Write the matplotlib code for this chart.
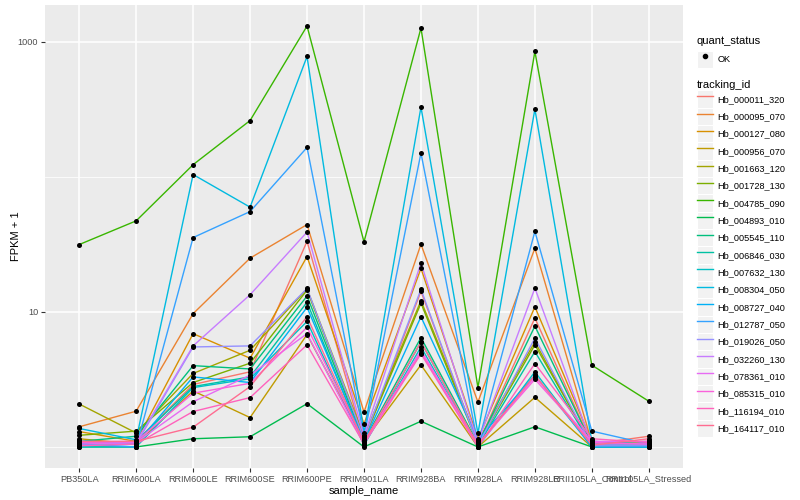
import numpy as np
import matplotlib
matplotlib.use("Agg")
import matplotlib.pyplot as plt
from matplotlib.lines import Line2D
from matplotlib.patches import Rectangle
from matplotlib.legend_handler import HandlerLine2D

plt.rcParams["font.family"] = ["Liberation Sans", "DejaVu Sans"]

samples = ["PB350LA", "RRIM600LA", "RRIM600LE", "RRIM600SE", "RRIM600PE",
           "RRIM901LA", "RRIM928BA", "RRIM928LA", "RRIM928LE",
           "RRII105LA_Control", "RRII105LA_Stressed"]

tracking_ids = ["Hb_000011_320", "Hb_000095_070", "Hb_000127_080", "Hb_000956_070",
                "Hb_001663_120", "Hb_001728_130", "Hb_004785_090", "Hb_004893_010",
                "Hb_005545_110", "Hb_006846_030", "Hb_007632_130", "Hb_008304_050",
                "Hb_008727_040", "Hb_012787_050", "Hb_019026_050", "Hb_032260_130",
                "Hb_078361_010", "Hb_085315_010", "Hb_116194_010", "Hb_164117_010"]

# FPKM + 1 per gene, one value per sample
fpkm = [
    [1.05, 1.10, 2.90, 3.60, 33.3, 1.10, 14.2, 1.05, 9.00, 1.05, 1.20],
    [1.41, 1.84, 9.70, 25.0, 44.3, 1.81, 31.7, 2.15, 29.6, 1.08, 1.10],
    [1.30, 1.10, 6.90, 4.54, 25.7, 1.48, 21.0, 1.15, 10.9, 1.10, 1.05],
    [1.15, 1.05, 2.60, 1.65, 6.80, 1.10, 4.05, 1.00, 2.33, 1.00, 1.02],
    [2.08, 1.27, 3.50, 5.20, 14.8, 1.20, 12.1, 1.10, 6.00, 1.02, 1.05],
    [1.22, 1.31, 3.00, 4.17, 14.5, 1.15, 11.6, 1.05, 5.70, 1.03, 1.08],
    [31.5, 47.2, 123., 261., 1307, 33.0, 1263, 2.75, 848., 4.03, 2.18],
    [1.00, 1.00, 1.15, 1.19, 2.09, 1.00, 1.55, 1.00, 1.41, 1.00, 1.00],
    [1.10, 1.20, 4.00, 3.78, 13.1, 1.10, 6.45, 1.05, 7.84, 1.05, 1.03],
    [1.05, 1.10, 2.80, 3.30, 11.8, 1.05, 6.00, 1.02, 5.08, 1.02, 1.02],
    [1.00, 1.00, 2.75, 3.20, 8.50, 1.03, 5.50, 1.00, 3.60, 1.00, 1.00],
    [1.37, 1.13, 104., 59.6, 778., 1.27, 328., 1.26, 317., 1.10, 1.05],
    [1.02, 1.05, 3.30, 3.00, 10.8, 1.10, 9.20, 1.13, 3.40, 1.00, 1.00],
    [1.05, 1.00, 35.5, 55.3, 165., 1.20, 150., 1.05, 39.4, 1.31, 1.05],
    [1.08, 1.05, 5.50, 5.60, 14.9, 1.15, 14.7, 1.03, 6.40, 1.02, 1.02],
    [1.10, 1.08, 5.60, 13.4, 39.0, 1.20, 23.0, 1.08, 15.0, 1.05, 1.05],
    [1.05, 1.08, 2.16, 3.40, 6.90, 1.05, 5.20, 1.02, 3.30, 1.10, 1.10],
    [1.08, 1.10, 2.50, 2.96, 7.70, 1.10, 5.00, 1.05, 3.17, 1.08, 1.05],
    [1.02, 1.05, 1.83, 2.32, 5.70, 1.05, 4.90, 1.00, 4.14, 1.15, 1.08],
    [1.10, 1.10, 1.40, 2.80, 9.20, 1.08, 6.00, 1.03, 3.40, 1.03, 1.15],
]

hue_colors = ["#F8766D", "#EA8331", "#D89000", "#C09B00", "#A3A500", "#7CAE00",
              "#39B600", "#00BB4E", "#00BF7D", "#00C1A3", "#00BFC4", "#00BAE0",
              "#00B0F6", "#35A2FF", "#9590FF", "#C77CFF", "#E76BF3", "#FA62DB",
              "#FF62BC", "#FF6C91"]


class KeyHandler(HandlerLine2D):
    # grey ggplot-like key tile behind each legend glyph
    def create_artists(self, legend, orig_handle, xdescent, ydescent,
                       width, height, fontsize, trans):
        tile = Rectangle((-xdescent, -ydescent), width, height,
                         facecolor="#F2F2F2", edgecolor="white", lw=0.8,
                         transform=trans)
        arts = super().create_artists(legend, orig_handle, xdescent, ydescent,
                                      width, height, fontsize, trans)
        return [tile] + arts


fig = plt.figure(figsize=(8, 5), dpi=100)
ax = fig.add_axes([0.05625, 0.064, 0.7975, 0.926])
ax.set_facecolor("#EBEBEB")

x = np.arange(len(samples))
values = np.array(fpkm)
for tid, row, col in zip(tracking_ids, values, hue_colors):
    ax.plot(x, row, color=col, lw=1.0, zorder=2)
for row in values:
    ax.scatter(x, row, s=13, color="black", zorder=3, linewidths=0)

ax.set_yscale("log")
lo, hi = np.log10(values.min()), np.log10(values.max())
pad = 0.05 * (hi - lo)
ax.set_ylim(10 ** (lo - pad), 10 ** (hi + pad))
ax.set_xlim(-0.6, len(samples) - 0.4)

ax.set_yticks([10, 1000])
ax.set_yticklabels(["10", "1000"])
ax.set_yticks([1, 100], minor=True)
ax.yaxis.set_minor_formatter(plt.NullFormatter())
ax.set_xticks(x)
ax.set_xticklabels(samples)

ax.grid(True, which="major", color="white", lw=1.1)
ax.grid(True, which="minor", axis="y", color="white", lw=0.55)
ax.set_axisbelow(True)
for s in ax.spines.values():
    s.set_visible(False)
ax.tick_params(axis="both", which="major", length=2.8, width=0.8, color="#333333",
               labelsize=6.6, labelcolor="#4D4D4D", pad=2)
ax.tick_params(axis="y", which="minor", length=0)

ax.set_xlabel("sample_name", fontsize=8, labelpad=2)
ax.set_ylabel("FPKM + 1", fontsize=8, labelpad=-2)

qs = [Line2D([], [], marker="o", ls="none", color="black", markersize=3.0)]
leg1 = fig.legend(qs, ["OK"], title="quant_status", loc="upper left",
                  bbox_to_anchor=(0.871, 0.928), frameon=False, fontsize=6.6,
                  title_fontsize=8, handlelength=1.75, handleheight=2.53,
                  handletextpad=0.5, borderaxespad=0, borderpad=0,
                  alignment="left", handler_map={Line2D: KeyHandler()})

handles = [Line2D([], [], color=c, lw=1.0) for c in hue_colors]
leg2 = fig.legend(handles, tracking_ids, title="tracking_id", loc="upper left",
                  bbox_to_anchor=(0.871, 0.839), frameon=False, fontsize=6.6,
                  title_fontsize=8, handlelength=1.75, handleheight=2.53,
                  handletextpad=0.5, labelspacing=0.0, borderaxespad=0,
                  borderpad=0, alignment="left",
                  handler_map={Line2D: KeyHandler()})

fig.savefig("out.png", dpi=100)
